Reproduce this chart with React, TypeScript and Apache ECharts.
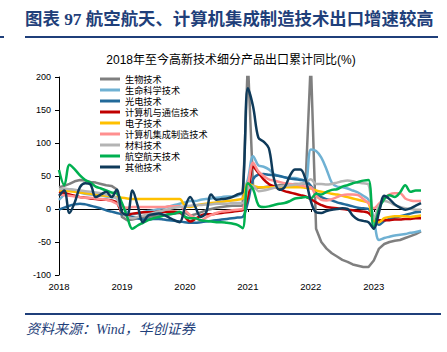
import React, { useEffect, useRef } from "react";
import * as echarts from "echarts";

const years = ["2018", "2019", "2020", "2021", "2022", "2023"];
const monthsInLastYear = 10;
const categories: string[] = [];
years.forEach((y, yi) => {
  const n = yi === years.length - 1 ? monthsInLastYear : 12;
  for (let m = 1; m <= n; m++) categories.push(`${y}-${String(m).padStart(2, "0")}`);
});

const seriesNames = [
  "生物技术",
  "生命科学技术",
  "光电技术",
  "计算机与通信技术",
  "电子技术",
  "计算机集成制造技术",
  "材料技术",
  "航空航天技术",
  "其他技术",
];
const seriesColors = [
  "#7F7F7F",
  "#6FB1D3",
  "#226A9A",
  "#C00000",
  "#FFC000",
  "#FF8F8F",
  "#B4B4B4",
  "#00B050",
  "#0E3A5A",
];

const bio = [
  33, 35, 38, 42, 44, 43, 41, 40, 38, 36, 35, 30,
  -12, -17, -16, -14, -13, -12, -11, -10, -9, -8, -7, -6,
  -6, -10, -8, -5, -2, 0, 2, 3, 4, 5, 5, 5,
  225, 33, 32, 33, 34, 35, 36, 37, 37, 38, 38, 39,
  225, -30, -50, -60, -67, -72, -77, -80, -84, -86, -88, -88,
  -78, -60, -53, -50, -48, -47, -44, -41, -38, -34,
];
const lifeSci = [
  14, 22, 30, 28, 25, 23, 22, 21, 20, 19, 18, 16,
  5, -5, -8, -7, -5, -3, -2, 0, 2, 4, 6, 8,
  10, 12, 12, 14, 15, 16, 17, 18, 19, 19, 20, 25,
  45, 80, 66, 64, 60, 53, 50, 48, 47, 47, 45, 42,
  90, 88, 78, 60, 40, 34, 33, 31, 28, 25, 20, 14,
  -15, -47, -44, -42, -40, -39, -38, -36, -35, -33,
];
const optoelec = [
  -1, 2, 5, 7, 8, 7, 5, 3, 1, -2, -4, -6,
  -8, -10, -12, -14, -16, -16, -15, -15, -16, -17, -18, -19,
  -20, -21, -21, -20, -19, -18, -17, -16, -15, -14, -13, -12,
  10, 45, 52, 53, 52, 51, 50, 48, 46, 45, 44, 43,
  35, 24, 18, 15, 13, 10, 8, 6, 4, 2, 1, 0,
  -15, -24, -18, -15, -13, -11, -9, -7, -5, -4,
];
const compComm = [
  26, 24, 22, 20, 18, 17, 16, 15, 14, 14, 13, 10,
  -6, -9, -7, -6, -5, -5, -5, -4, -4, -4, -4, -5,
  -12, -19, -15, -10, -8, -8, -7, -6, -5, -4, -3, -2,
  20, 64, 55, 45, 38, 34, 30, 27, 25, 23, 21, 19,
  15, 10, 6, 3, 2, 1, 0, -1, -2, -3, -4, -6,
  -14, -17, -17, -17, -16, -16, -15, -15, -14, -14,
];
const electronics = [
  28, 28, 27, 26, 25, 24, 23, 22, 21, 20, 19, 18,
  17, 16, 15, 15, 15, 15, 15, 15, 15, 15, 15, 15,
  5, 3, 5, 7, 8, 9, 10, 11, 12, 13, 14, 16,
  39, 35, 33, 33, 33, 33, 33, 33, 33, 33, 33, 32,
  31, 28, 26, 25, 23, 22, 20, 18, 16, 14, 12, 9,
  -18, -20, -14, -12, -11, -11, -11, -12, -11, -10,
];
const cim = [
  22, 21, 20, 19, 18, 17, 17, 16, 15, 14, 12, 8,
  3, 2, 3, 3, 3, 3, 3, 3, 3, 4, 4, 4,
  -2, -9, -14, -17, -13, -9, -6, -4, -3, -2, -1, 0,
  35, 70, 57, 50, 45, 43, 41, 39, 38, 37, 36, 34,
  33, 20, 14, 13, 15, 18, 21, 22, 22, 21, 15, 9,
  1, 8, 16, 22, 24, 24, 16, 13, 12, 12,
];
const material = [
  30, 31, 30, 29, 28, 27, 26, 25, 24, 22, 20, 16,
  -5, -12, -14, -12, -10, -8, -6, -4, -2, 0, 2, 3,
  4, 5, 6, 6, 7, 7, 8, 8, 8, 9, 9, 9,
  30, 35, 27, 28, 30, 32, 34, 35, 36, 37, 38, 40,
  45, 38, 38, 37, 38, 40, 42, 43, 42, 40, 39, 37,
  -15, 5, 12, 10, 6, 3, 1, 0, -1, -1,
];
const aero = [
  59, 36, 67, 60, 51, 44, 40, 34, 31, 28, 25, 24,
  9, -12, -30, -25, -21, -17, -14, -12, -10, -8, -7, -4,
  -12, -14, -14, -17, -18, -19, -20, -20, -21, -22, -24, -29,
  39, 30, 6, 3, 4, 6, 8, 9, 12, 16, 17, 18,
  16, 23, 22, 26, 29, 30, 34, 36, 39, 41, 43, 44,
  -30, 0, 15, 21, 18, 25, 36, 26, 28, 28,
];
const other = [
  20, 28, -6, 10, 33, 39, 37, 18, 22, 26, 18, 29,
  -5, -9, 28, 5, -20, -10, -8, -7, -9, -13, -17, -20,
  2, 18, 3, -12, -6, 22, 14, 15, 16, 18, 22, 26,
  183, 155, 108, 102, 92, 45, 29, 33, 50, 60, 60, 45,
  12, -5, -6, -3, -1, 0, 1, 0, -10, -16, -18, -20,
  -30, -5, 20, 15, 7, 2, -1, 1, 5, 9,
];
const seriesData = [bio, lifeSci, optoelec, compComm, electronics, cim, material, aero, other];
const seriesSmooth = [0, 0.35, 0.35, 0.35, 0.35, 0.35, 0.35, 0.35, 0.35];

const yTicks = { min: -100, max: 200, interval: 50 };

const titleText = "图表 97 航空航天、计算机集成制造技术出口增速较高";
const subTitleText = "2018年至今高新技术细分产品出口累计同比(%)";
const sourceText = "资料来源：Wind，华创证券";

const navy = "#1F3F7A";

export default function App() {
  const ref = useRef<HTMLDivElement>(null);
  useEffect(() => {
    if (!ref.current) return;
    const chart = echarts.init(ref.current, undefined, { renderer: "svg" });
    const yearTick = (i: number) => i % 12 === 0;
    chart.setOption({
      animation: false,
      backgroundColor: "#fff",
      textStyle: { fontFamily: "Liberation Sans, Arial, Noto Sans CJK SC" },
      grid: { left: 59, right: 26, top: 77, bottom: 77 },
      legend: {
        data: seriesNames,
        orient: "vertical",
        left: 95,
        top: 68.5,
        icon: "rect",
        itemWidth: 20,
        itemHeight: 3,
        itemGap: 0,
        textStyle: { fontSize: 9.2, lineHeight: 11, color: "#000", fontFamily: "Noto Sans CJK SC" },
      },
      xAxis: [
        {
          type: "category",
          data: categories,
          boundaryGap: false,
          axisLine: { show: false, onZero: false },
          axisTick: { show: false },
          axisLabel: {
            interval: (i: number) => yearTick(i),
            formatter: (v: string) => v.slice(0, 4),
            fontSize: 9.5,
            color: "#000",
            margin: 7,
          },
          splitLine: { show: false },
        },
        {
          type: "category",
          data: categories,
          boundaryGap: false,
          position: "bottom",
          axisLine: { show: true, onZero: true, lineStyle: { color: "#000", width: 1 } },
          axisTick: { show: true, interval: (i: number) => yearTick(i), length: 3, lineStyle: { color: "#000" } },
          axisLabel: { show: false },
          splitLine: { show: false },
        },
      ],
      yAxis: {
        type: "value",
        min: yTicks.min,
        max: yTicks.max,
        interval: yTicks.interval,
        axisLine: { show: true, lineStyle: { color: "#000", width: 1 } },
        axisTick: { show: true, length: 4, lineStyle: { color: "#000" } },
        axisLabel: { fontSize: 9, color: "#000", margin: 8 },
        splitLine: { show: false },
      },
      series: seriesNames.map((name, k) => ({
        name,
        type: "line",
        xAxisIndex: 0,
        data: seriesData[k],
        smooth: seriesSmooth[k] > 0 ? seriesSmooth[k] : false,
        symbol: "none",
        clip: true,
        lineStyle: { width: 2.5, color: seriesColors[k], join: "round" },
        itemStyle: { color: seriesColors[k] },
      })),
      graphic: [
        {
          type: "text",
          x: 25,
          y: 19,
          style: {
            text: titleText,
            fontSize: 17.4,
            fontWeight: "bold",
            fill: navy,
            fontFamily: "Liberation Serif, Noto Sans CJK SC",
            verticalAlign: "middle",
            align: "left",
          },
        },
        { type: "line", shape: { x1: 25, y1: 37, x2: 438, y2: 37 }, style: { stroke: navy, lineWidth: 2 } },
        { type: "line", shape: { x1: 0, y1: 37, x2: 4, y2: 37 }, style: { stroke: navy, lineWidth: 2 } },
        {
          type: "text",
          x: 231,
          y: 60,
          style: {
            text: subTitleText,
            fontSize: 12,
            fill: "#000",
            fontFamily: "Liberation Sans, Noto Sans CJK SC",
            align: "center",
            verticalAlign: "middle",
          },
        },
        { type: "line", shape: { x1: 25, y1: 314, x2: 441, y2: 314 }, style: { stroke: navy, lineWidth: 2 } },
        {
          type: "text",
          x: 26,
          y: 329,
          style: {
            text: sourceText,
            fontSize: 14,
            fontStyle: "italic",
            fill: navy,
            fontFamily: "Liberation Serif, Noto Sans CJK SC",
            align: "left",
            verticalAlign: "middle",
          },
        },
      ],
    });
    return () => chart.dispose();
  }, []);
  return (
    <div
      ref={ref}
      style={{ position: "fixed", left: 0, top: 0, width: 447, height: 352, background: "#fff" }}
    />
  );
}
